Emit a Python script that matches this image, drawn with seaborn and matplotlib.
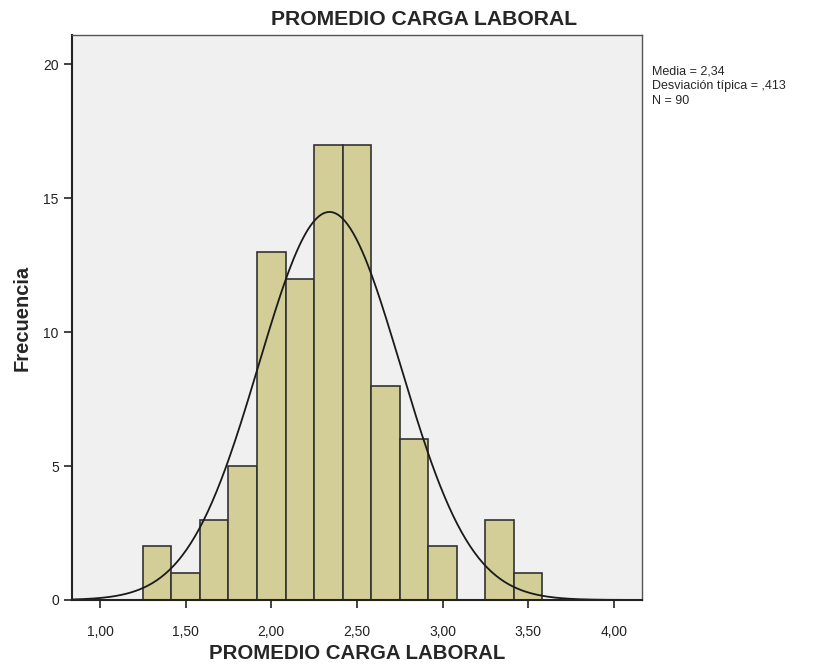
import numpy as np
import pandas as pd
import matplotlib
matplotlib.use('Agg')
import matplotlib.pyplot as plt
import seaborn as sns

# histogram counts (bin width 1/6)
bin_edges = [1.25 + i / 6 for i in range(15)]
counts = [2, 1, 3, 5, 13, 12, 17, 17, 8, 6, 2, 0, 3, 1]
media = 2.34
desv = 0.413
n = 90

sns.set_style('white')
plt.rcParams['font.family'] = ['Liberation Sans', 'DejaVu Sans']

centers = [(bin_edges[i] + bin_edges[i + 1]) / 2 for i in range(len(counts))]
df = pd.DataFrame({'x': centers, 'count': counts})

fig = plt.figure(figsize=(8.13, 6.64), dpi=100)
ax = fig.add_axes([0.0886, 0.0964, 0.701, 0.851])
ax.set_facecolor('#f0f0f0')

sns.histplot(data=df, x='x', weights='count', bins=bin_edges, ax=ax,
             color='#d3ce97', edgecolor='#333333', linewidth=1.2, alpha=1)

# normal curve scaled to counts
bw = bin_edges[1] - bin_edges[0]
xs = np.linspace(0.84, 4.16, 400)
ys = n * bw * np.exp(-0.5 * ((xs - media) / desv) ** 2) / (desv * np.sqrt(2 * np.pi))
sns.lineplot(x=xs, y=ys, ax=ax, color='#1a1a1a', linewidth=1.3)

ax.set_xlim(0.837, 4.164)
ax.set_ylim(0, 21.1)
ax.set_xticks([1, 1.5, 2, 2.5, 3, 3.5, 4])
ax.set_xticklabels(['1,00', '1,50', '2,00', '2,50', '3,00', '3,50', '4,00'])
ax.set_yticks([0, 5, 10, 15, 20])
ax.tick_params(axis='both', direction='out', length=6, width=1.2, labelsize=10,
               colors='#222222', bottom=True, left=True)
ax.tick_params(axis='x', pad=12)
for side in ['left', 'bottom']:
    ax.spines[side].set_color('#222222')
    ax.spines[side].set_linewidth(1.5)
for side in ['top', 'right']:
    ax.spines[side].set_color('#555555')
    ax.spines[side].set_linewidth(1.0)

ax.set_xlabel('PROMEDIO CARGA LABORAL', fontsize=14.7, fontweight='bold')
ax.xaxis.set_label_coords(0.5, -0.077)
ax.set_ylabel('Frecuencia', fontsize=14.5, fontweight='bold', labelpad=8)
fig.text(0.5215, 0.970, 'PROMEDIO CARGA LABORAL', fontsize=15.2, fontweight='bold',
         ha='center', va='center')

fig.text(652 / 813, 1 - 66 / 664,
         'Media = 2,34\nDesviación típica = ,413\nN = 90',
         fontsize=9, ha='left', va='top', linespacing=1.25)

fig.savefig('out.png', dpi=100)
